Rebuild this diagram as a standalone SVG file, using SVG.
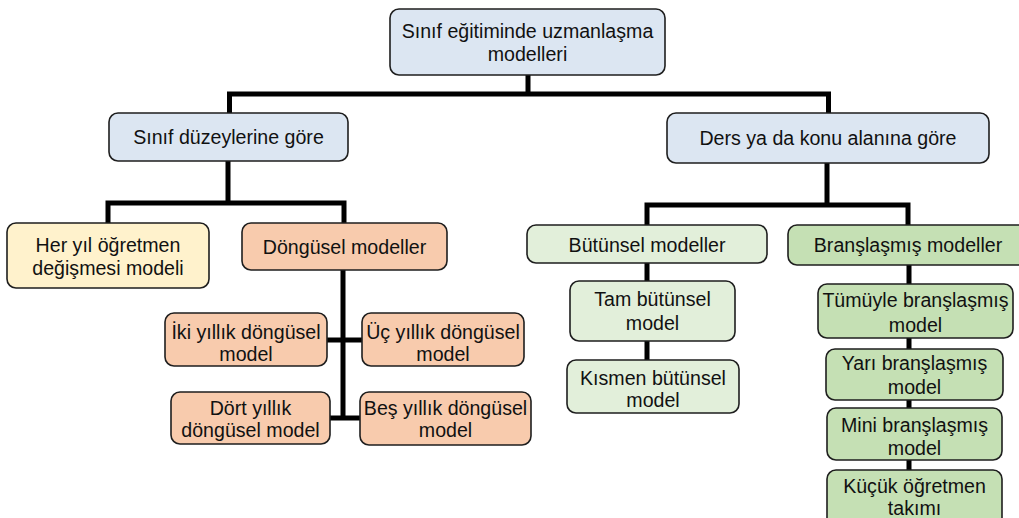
<svg xmlns="http://www.w3.org/2000/svg" width="1019" height="518" viewBox="0 0 1019 518">
<style>
.b{stroke:#1e1e1e;stroke-width:1.6}
.blue{fill:#dce6f2}.yel{fill:#fff2cc}.pch{fill:#f8cbad}.lg{fill:#e2efda}.dg{fill:#c5e0b4}
text{font-family:"Liberation Sans",Arial,sans-serif;font-size:19.6px;fill:#111;text-anchor:middle}
.c{stroke:#000;stroke-width:5;fill:none;stroke-linejoin:miter}
</style>
<rect width="1019" height="518" fill="#fff"/>
<g id="connectors">
<path class="c" d="M528 75V94M229.5 113V94H828.5V113"/>
<path class="c" d="M228 161V203M108 223V203H344V223"/>
<path class="c" d="M827 163V205M647 225V205H908V225"/>
<path class="c" d="M343 270V418M327 340H362M330 418H360"/>
<path class="c" d="M647 263V281M647 341V360"/>
<path class="c" d="M909 265V284M909 338V349M909 400V408M909 460V470"/>
</g>
<g id="root"><rect class="b blue" x="390" y="9" width="275" height="66" rx="9"/><text x="527.5" y="38">Sınıf eğitiminde uzmanlaşma</text><text x="527.5" y="61">modelleri</text></g>
<g id="sinif"><rect class="b blue" x="109" y="113" width="239" height="48" rx="9"/><text x="228.5" y="144">Sınıf düzeylerine göre</text></g>
<g id="ders"><rect class="b blue" x="667" y="113" width="322" height="50" rx="9"/><text x="828" y="145">Ders ya da konu alanına göre</text></g>
<g id="heryil"><rect class="b yel" x="7" y="223" width="202" height="65" rx="9"/><text x="108" y="252">Her yıl öğretmen</text><text x="108" y="275">değişmesi modeli</text></g>
<g id="dongusel"><rect class="b pch" x="242" y="223" width="205" height="47" rx="9"/><text x="344.5" y="254">Döngüsel modeller</text></g>
<g id="iki"><rect class="b pch" x="165" y="313" width="162" height="53" rx="9"/><text x="246" y="339">İki yıllık döngüsel</text><text x="246" y="361">model</text></g>
<g id="uc"><rect class="b pch" x="362" y="313" width="162" height="53" rx="9"/><text x="443" y="339">Üç yıllık döngüsel</text><text x="443" y="361">model</text></g>
<g id="dort"><rect class="b pch" x="171" y="392" width="159" height="52" rx="9"/><text x="250.5" y="415">Dört yıllık</text><text x="250.5" y="437">döngüsel model</text></g>
<g id="bes"><rect class="b pch" x="360" y="392" width="171" height="53" rx="9"/><text x="445.5" y="415">Beş yıllık döngüsel</text><text x="445.5" y="437">model</text></g>
<g id="butunsel"><rect class="b lg" x="527" y="225" width="240" height="38" rx="9"/><text x="647" y="252">Bütünsel modeller</text></g>
<g id="bransl"><rect class="b dg" x="788" y="225" width="240" height="40" rx="9"/><text x="908" y="252">Branşlaşmış modeller</text></g>
<g id="tam"><rect class="b lg" x="570" y="281" width="165" height="60" rx="9"/><text x="652.5" y="306">Tam bütünsel</text><text x="652.5" y="330">model</text></g>
<g id="kismen"><rect class="b lg" x="567" y="360" width="172" height="53" rx="9"/><text x="653" y="385">Kısmen bütünsel</text><text x="653" y="407">model</text></g>
<g id="tumuyle"><rect class="b dg" x="818" y="284" width="195" height="54" rx="9"/><text x="915.5" y="307">Tümüyle branşlaşmış</text><text x="915.5" y="332">model</text></g>
<g id="yari"><rect class="b dg" x="826" y="349" width="177" height="51" rx="9"/><text x="914.5" y="370">Yarı branşlaşmış</text><text x="914.5" y="394">model</text></g>
<g id="mini"><rect class="b dg" x="827" y="408" width="175" height="52" rx="9"/><text x="914.5" y="432">Mini branşlaşmış</text><text x="914.5" y="455">model</text></g>
<g id="kucuk"><rect class="b dg" x="827" y="470" width="175" height="60" rx="9"/><text x="914.5" y="493">Küçük öğretmen</text><text x="914.5" y="515">takımı</text></g>
</svg>
